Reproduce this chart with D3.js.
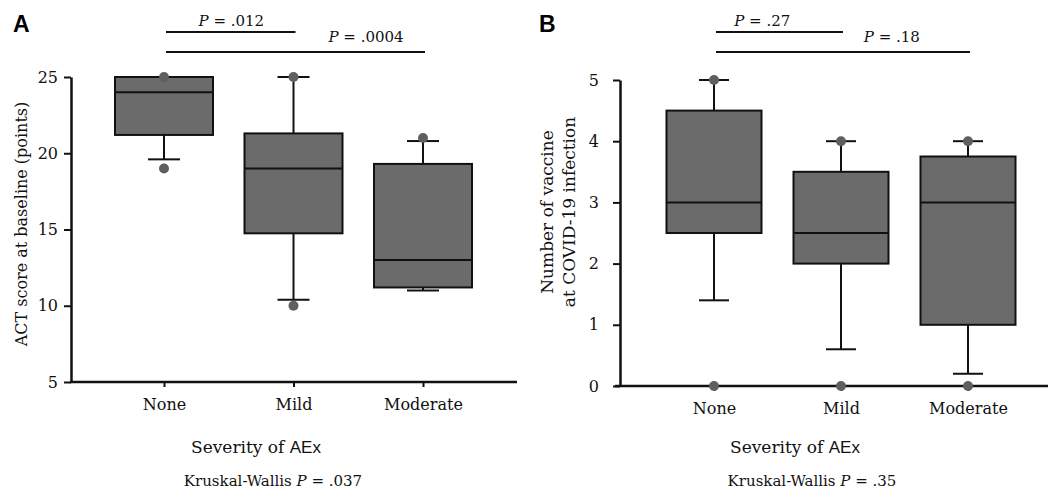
<!DOCTYPE html>
<html>
<head>
<meta charset="utf-8">
<script src="https://cdn.jsdelivr.net/npm/d3@7"></script>
<style>
  body { margin: 0; background: #fff; }
  svg { display: block; }
  .serif { font-family: "DejaVu Serif", serif; fill: #111; }
  .sans { font-family: "Liberation Sans", Arial, sans-serif; }
</style>
</head>
<body>
<svg id="chart" width="1056" height="490"></svg>
<script>
"use strict";

var categories = ["None", "Mild", "Moderate"];

// panel A: ACT score at baseline
var actLow = [19.6, 10.4, 11.0];
var actQ1 = [21.2, 14.75, 11.2];
var actMedian = [24, 19, 13];
var actQ3 = [25, 21.3, 19.3];
var actHigh = [25, 25, 20.8];
var actPoints = [[25, 19], [25, 10], [21]];
var actTicks = [5, 10, 15, 20, 25];
var actPairs = [["None", "Mild", "P", " = .012"], ["None", "Moderate", "P", " = .0004"]];

// panel B: number of vaccine doses
var vacLow = [1.4, 0.6, 0.2];
var vacQ1 = [2.5, 2, 1];
var vacMedian = [3, 2.5, 3];
var vacQ3 = [4.5, 3.5, 3.75];
var vacHigh = [5, 4, 4];
var vacPoints = [[5, 0], [4, 0], [4, 0]];
var vacTicks = [0, 1, 2, 3, 4, 5];
var vacPairs = [["None", "Mild", "P", " = .27"], ["None", "Moderate", "P", " = .18"]];

var svg = d3.select("#chart");
svg.append("rect").attr("width", 1056).attr("height", 490).attr("fill", "#fff");

function drawPanel(o) {
  var g = svg.append("g");

  var x = d3.scalePoint().domain(categories).range(o.xRange),
    y = d3.scaleLinear().domain(o.yDomain).range(o.yRange);

  var rows = categories.map(function(c, i) {
    return {cat: c, low: o.low[i], q1: o.q1[i], med: o.median[i], q3: o.q3[i], high: o.high[i], pts: o.points[i]};
  });

  // y axis
  var ya = g.append("g")
    .attr("transform", "translate(" + o.axisX + ",0)")
    .call(d3.axisLeft(y).tickValues(o.ticks).tickFormat(d3.format("d"))
      .tickSize(7).tickSizeOuter(0).tickPadding(o.tickPad));
  ya.select(".domain").attr("stroke", "#111").attr("stroke-width", 2.5);
  ya.selectAll(".tick line").attr("stroke", "#111").attr("stroke-width", 2);
  ya.selectAll(".tick text").attr("class", "serif").style("font-size", "16px").attr("fill", "#111");

  // x axis
  var xa = g.append("g")
    .attr("transform", "translate(0," + o.yRange[0] + ")")
    .call(d3.axisBottom(x).tickSize(5).tickPadding(12).tickSizeOuter(0));
  xa.select(".domain").remove();
  xa.append("line")
    .attr("x1", o.xAxisStart).attr("x2", o.xAxisEnd)
    .attr("stroke", "#111").attr("stroke-width", 2.5);
  xa.selectAll(".tick line").attr("stroke", "#111").attr("stroke-width", 2);
  xa.selectAll(".tick text").attr("class", "serif").style("font-size", "16px").attr("fill", "#111");

  // boxes
  var bw = o.boxWidth, cw = o.capWidth;
  var box = g.append("g").selectAll("g").data(rows).join("g")
    .attr("transform", function(d) { return "translate(" + x(d.cat) + ",0)"; });

  box.append("line")
    .attr("y1", function(d) { return y(d.low); })
    .attr("y2", function(d) { return y(d.high); })
    .attr("stroke", "#111").attr("stroke-width", 2);
  box.selectAll(".cap").data(function(d) { return [d.low, d.high]; }).join("line")
    .attr("class", "cap")
    .attr("x1", -cw / 2).attr("x2", cw / 2)
    .attr("y1", function(v) { return y(v); }).attr("y2", function(v) { return y(v); })
    .attr("stroke", "#111").attr("stroke-width", 2);
  box.append("rect")
    .attr("x", -bw / 2).attr("width", bw)
    .attr("y", function(d) { return y(d.q3); })
    .attr("height", function(d) { return y(d.q1) - y(d.q3); })
    .attr("fill", "#6b6b6b").attr("stroke", "#111").attr("stroke-width", 2);
  box.append("line")
    .attr("x1", -bw / 2).attr("x2", bw / 2)
    .attr("y1", function(d) { return y(d.med); }).attr("y2", function(d) { return y(d.med); })
    .attr("stroke", "#111").attr("stroke-width", 2);
  box.selectAll("circle").data(function(d) { return d.pts; }).join("circle")
    .attr("cy", function(v) { return y(v); })
    .attr("r", 5)
    .attr("fill", "#5f5f5f");

  // significance brackets
  o.pairs.forEach(function(p, i) {
    var x1 = x(p[0]), x2 = x(p[1]), ly = o.bracketY[i];
    g.append("line")
      .attr("x1", x1 + 2).attr("x2", x2 + 2).attr("y1", ly).attr("y2", ly)
      .attr("stroke", "#111").attr("stroke-width", 2);
    var t = g.append("text").attr("class", "serif")
      .attr("x", x1 + (x2 - x1) * o.labelAt[i])
      .attr("y", ly - o.labelLift[i])
      .attr("text-anchor", "middle")
      .style("font-size", "15px");
    t.append("tspan").style("font-style", "italic").text(p[2]);
    t.append("tspan").text(p[3]);
  });

  // panel letter
  g.append("text").attr("class", "sans")
    .attr("x", o.letterX).attr("y", 32)
    .style("font-size", "23px").style("font-weight", "bold")
    .text(o.letter);

  // y axis title
  var yt = g.append("text").attr("class", "serif")
    .attr("transform", "translate(" + o.yTitleX + "," + o.yTitleY + ") rotate(-90)")
    .attr("text-anchor", "middle")
    .style("font-size", o.yTitleSize + "px");
  o.yTitle.forEach(function(line, i) {
    yt.append("tspan").attr("x", 0).attr("dy", i ? "1.3em" : 0).text(line);
  });

  // x axis title
  var xt = g.append("text").attr("class", "serif")
    .attr("x", o.xTitleX).attr("y", 453)
    .attr("text-anchor", "middle")
    .style("font-size", "17px");
  xt.append("tspan").text("Severity of ");
  xt.append("tspan").attr("class", "sans").style("font-size", "17px").text("AEx");

  var kw = g.append("text").attr("class", "serif")
    .attr("x", o.xTitleX + 17).attr("y", 486)
    .attr("text-anchor", "middle")
    .style("font-size", "15px");
  kw.append("tspan").text("Kruskal-Wallis ");
  kw.append("tspan").style("font-style", "italic").text("P");
  kw.append("tspan").text(" = " + o.kw);
}

drawPanel({
  letter: "A", letterX: 13,
  low: actLow, q1: actQ1, median: actMedian, q3: actQ3, high: actHigh, points: actPoints,
  ticks: actTicks, pairs: actPairs, kw: ".037",
  xRange: [164, 423], yDomain: [5, 25], yRange: [382, 77],
  axisX: 71, xAxisStart: 70, xAxisEnd: 517, tickPad: 6,
  boxWidth: 98, capWidth: 32,
  bracketY: [32, 52], labelAt: [0.52, 0.78], labelLift: [6, 10],
  yTitle: ["ACT score at baseline (points)"], yTitleX: 27, yTitleY: 224, yTitleSize: 16,
  xTitleX: 256
});

drawPanel({
  letter: "B", letterX: 539,
  low: vacLow, q1: vacQ1, median: vacMedian, q3: vacQ3, high: vacHigh, points: vacPoints,
  ticks: vacTicks, pairs: vacPairs, kw: ".35",
  xRange: [714, 968], yDomain: [0, 5], yRange: [386, 80],
  axisX: 620, xAxisStart: 615, xAxisEnd: 1048, tickPad: 14,
  boxWidth: 95, capWidth: 30,
  bracketY: [32, 52], labelAt: [0.38, 0.7], labelLift: [6, 10],
  yTitle: ["Number of vaccine", "at COVID-19 infection"], yTitleX: 553, yTitleY: 212, yTitleSize: 17,
  xTitleX: 795
});
</script>
</body>
</html>
